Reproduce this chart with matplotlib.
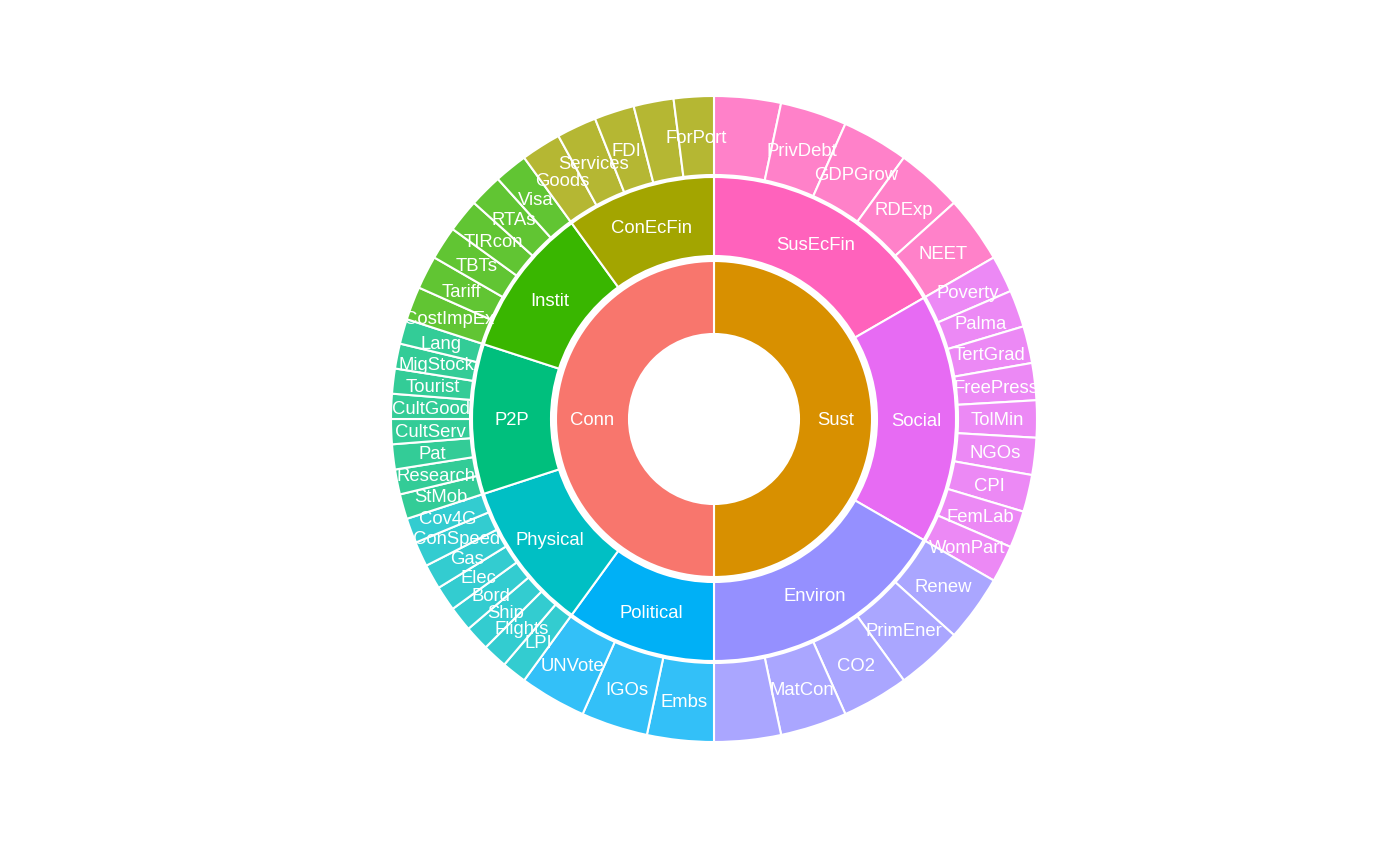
import matplotlib
matplotlib.use("Agg")
import matplotlib.pyplot as plt
import matplotlib.colors as mcolors
import numpy as np

plt.rcParams['font.family'] = ['Liberation Sans', 'DejaVu Sans']

# ---- data (clockwise from 12 o'clock) ----
pillars = ["Sust", "Conn"]
pillar_colors = ["#D89000", "#F8766D"]

dims = ["SusEcFin", "Social", "Environ", "Political", "Physical", "P2P", "Instit", "ConEcFin"]
dim_pillar = ["Sust", "Sust", "Sust", "Conn", "Conn", "Conn", "Conn", "Conn"]
dim_colors = ["#FF62BC", "#E76BF3", "#9590FF", "#00B0F6", "#00BFC4", "#00BF7D", "#39B600", "#A3A500"]

ind_SusEcFin = ["", "PrivDebt", "GDPGrow", "RDExp", "NEET"]
ind_Social = ["Poverty", "Palma", "TertGrad", "FreePress", "TolMin", "NGOs", "CPI", "FemLab", "WomPart"]
ind_Environ = ["Renew", "PrimEner", "CO2", "MatCon", ""]
ind_Political = ["Embs", "IGOs", "UNVote"]
ind_Physical = ["LPI", "Flights", "Ship", "Bord", "Elec", "Gas", "ConSpeed", "Cov4G"]
ind_P2P = ["StMob", "Research", "Pat", "CultServ", "CultGood", "Tourist", "MigStock", "Lang"]
ind_Instit = ["CostImpEx", "Tariff", "TBTs", "TIRcon", "RTAs", "Visa"]
ind_ConEcFin = ["Goods", "Services", "FDI", "", "ForPort"]

indicators = {
    "SusEcFin": ind_SusEcFin, "Social": ind_Social, "Environ": ind_Environ,
    "Political": ind_Political, "Physical": ind_Physical, "P2P": ind_P2P,
    "Instit": ind_Instit, "ConEcFin": ind_ConEcFin,
}

# equal weights at each level of the hierarchy
pillar_w = [1.0 / len(pillars)] * len(pillars)
dim_w = [pillar_w[pillars.index(p)] / dim_pillar.count(p) for p in dim_pillar]
ind_labels, ind_w, ind_colors = [], [], []
for d, w, c in zip(dims, dim_w, dim_colors):
    n = len(indicators[d])
    rgb = np.array(mcolors.to_rgb(c))
    light = 0.8 * rgb + 0.2  # alpha 0.8 over white
    for lab in indicators[d]:
        ind_labels.append(lab)
        ind_w.append(w / n)
        ind_colors.append(tuple(light))

# ---- figure ----
W, H = 1400, 866
fig = plt.figure(figsize=(14, 8.66), dpi=100)
ax = fig.add_axes([0, 0, 1, 1])
unit = 323.0
cx, cy = 714, 447
ax.axis("off")

edge = dict(edgecolor="white", linewidth=1.5)
fs = 13.3
dy_text = -2.0 / unit


def ring(values, colors, labels, radius, width, label_r):
    wedges, _ = ax.pie(values, colors=colors, radius=radius, startangle=90,
                       counterclock=False, wedgeprops=dict(width=width, **edge),
                       normalize=False)
    for wdg, lab in zip(wedges, labels):
        if not lab:
            continue
        ang = np.deg2rad((wdg.theta1 + wdg.theta2) / 2)
        ax.text(label_r * np.cos(ang), label_r * np.sin(ang) + dy_text, lab,
                color="white", fontsize=fs, ha="center", va="center", zorder=10)


ring(pillar_w, pillar_colors, pillars, 158 / unit, 73 / unit, 121.5 / unit)
ring(dim_w, dim_colors, dims, 242 / unit, 79 / unit, 202.5 / unit)
ring(ind_w, ind_colors, ind_labels, 1.0, 79 / unit, 283.5 / unit)

ax.set_aspect("auto")
ax.set_xlim(-cx / unit, (W - cx) / unit)
ax.set_ylim(-cy / unit, (H - cy) / unit)

fig.savefig("out.png", dpi=100, facecolor="white")
